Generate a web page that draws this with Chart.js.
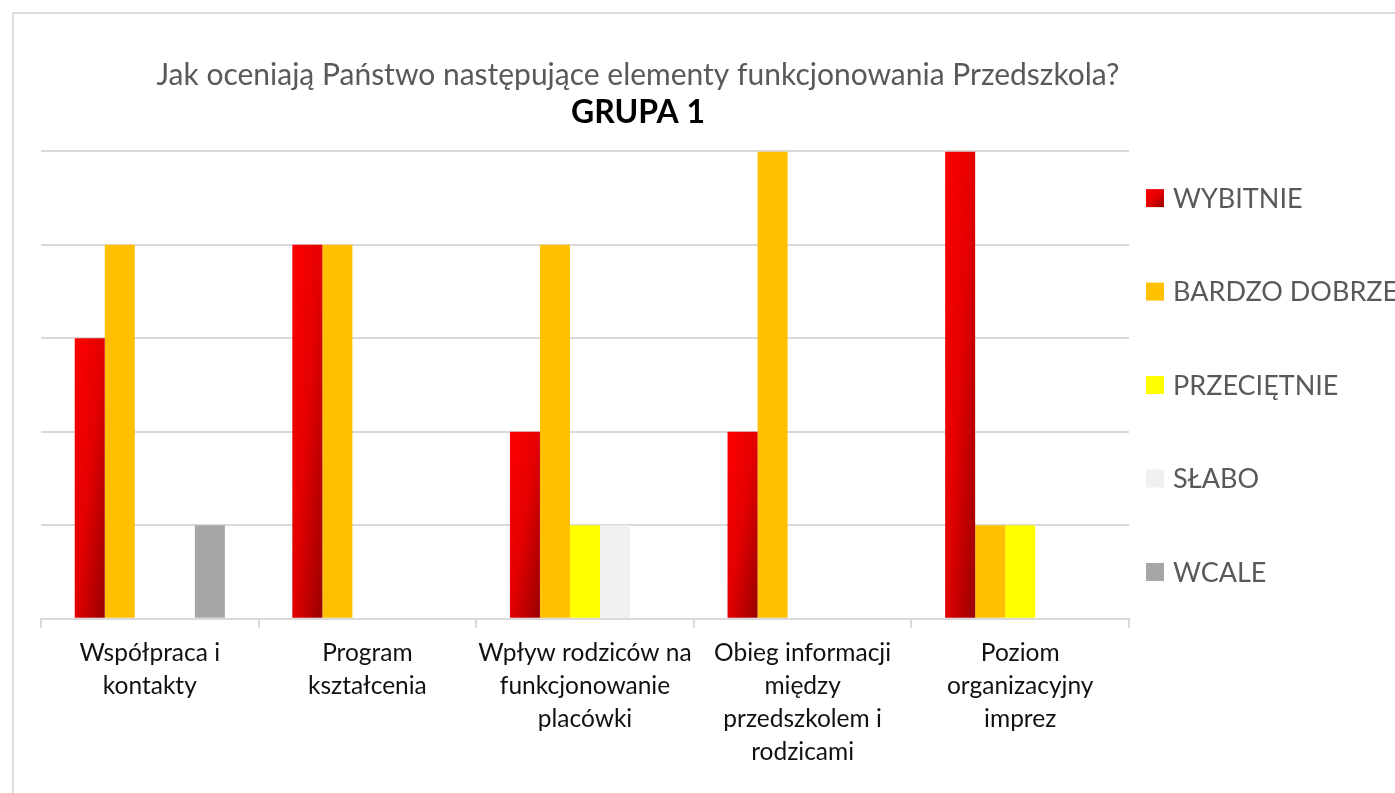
<!DOCTYPE html>
<html>
<head>
<meta charset="utf-8">
<script src="https://cdn.jsdelivr.net/npm/chart.js@4/dist/chart.umd.min.js"></script>
<style>
  html, body { margin: 0; padding: 0; overflow: hidden; background: #fff; }
  #wrap { position: absolute; left: 0; top: 0; width: 1395px; height: 793px; }
  #frame { position: absolute; left: 12px; top: 12px; width: 1500px; height: 900px;
           border: 2px solid #dcdcdc; pointer-events: none; }
</style>
</head>
<body>
<div id="wrap"><canvas id="chart" width="1395" height="793"></canvas></div>
<div id="frame"></div>
<script>
const titleText = 'Jak oceniają Państwo następujące elementy funkcjonowania Przedszkola?';
const subtitleText = 'GRUPA 1';

const categories = [
    ['Współpraca i', 'kontakty'],
    ['Program', 'kształcenia'],
    ['Wpływ rodziców na', 'funkcjonowanie', 'placówki'],
    ['Obieg informacji', 'między', 'przedszkolem i', 'rodzicami'],
    ['Poziom', 'organizacyjny', 'imprez']
];

const seriesNames = ['WYBITNIE', 'BARDZO DOBRZE', 'PRZECIĘTNIE', 'SŁABO', 'WCALE'];
const seriesColors = ['#e60000', '#ffc000', '#ffff00', '#f0f0f0', '#a6a6a6'];

const wybitnie = [3, 4, 2, 2, 5];
const bardzoDobrze = [4, 4, 4, 5, 1];
const przecietnie = [0, 0, 1, 0, 1];
const slabo = [0, 0, 1, 0, 0];
const wcale = [1, 0, 0, 0, 0];

const seriesValues = [wybitnie, bardzoDobrze, przecietnie, slabo, wcale];

const FONT = 'Lato, "Noto Sans", sans-serif';

// red bars get a diagonal gradient, scaled to each bar like in Excel
function redGradient(ctx, left, top, w, h) {
    const k = 2 * w * h / (w * w + h * h);
    const g = ctx.createLinearGradient(left, top, left + h * k, top + w * k);
    g.addColorStop(0, '#ff0000');
    g.addColorStop(0.5, '#e20000');
    g.addColorStop(1, '#980000');
    return g;
}

const gradientBars = {
    id: 'gradientBars',
    beforeDatasetsDraw(chart) {
        const meta = chart.getDatasetMeta(0);
        meta.data.forEach(bar => {
            const p = bar.getProps(['x', 'y', 'base', 'width'], true);
            const top = Math.min(p.y, p.base);
            const h = Math.abs(p.base - p.y);
            if (h <= 0) return;
            bar.options.backgroundColor = redGradient(chart.ctx, p.x - p.width / 2, top, p.width, h);
        });
    }
};

const sideLegend = {
    id: 'sideLegend',
    afterDraw(chart) {
        const ctx = chart.ctx;
        const area = chart.chartArea;
        const step = (area.bottom - area.top) / seriesNames.length;
        const boxX = area.right + 17;
        ctx.save();
        ctx.font = '27px ' + FONT;
        ctx.textBaseline = 'middle';
        seriesNames.forEach((name, i) => {
            const cy = area.top + step * (i + 0.5);
            ctx.fillStyle = i === 0 ? redGradient(ctx, boxX, cy - 9, 18, 18) : seriesColors[i];
            ctx.fillRect(boxX, cy - 9, 18, 18);
            ctx.fillStyle = '#595959';
            ctx.fillText(name, boxX + 27, cy + 1);
        });
        ctx.restore();
    }
};

const datasets = seriesNames.map((name, i) => ({
    label: name,
    data: seriesValues[i],
    backgroundColor: i === 0 ? () => seriesColors[0] : seriesColors[i],
    borderWidth: 0,
    categoryPercentage: 0.69,
    barPercentage: 1
}));

new Chart(document.getElementById('chart').getContext('2d'), {
    type: 'bar',
    data: { labels: categories, datasets: datasets },
    plugins: [gradientBars, sideLegend],
    options: {
        responsive: false,
        animation: false,
        layout: { padding: { left: 0, right: 119, top: 0, bottom: 15 } },
        plugins: {
            legend: { display: false },
            tooltip: { enabled: false },
            title: {
                display: true,
                text: titleText,
                color: '#595959',
                font: { family: FONT, size: 30, weight: 'normal', lineHeight: 1.2 },
                padding: { top: 57, bottom: 0 }
            },
            subtitle: {
                display: true,
                text: subtitleText,
                color: '#000000',
                font: { family: FONT, size: 32, weight: 'bold', lineHeight: 1.2 },
                padding: { top: 0, bottom: 20 }
            }
        },
        scales: {
            x: {
                grid: {
                    display: true,
                    drawOnChartArea: false,
                    drawTicks: true,
                    tickLength: 9,
                    color: '#d9d9d9',
                    lineWidth: 2
                },
                border: { display: true, color: '#d9d9d9', width: 2 },
                ticks: {
                    color: '#111111',
                    font: { family: FONT, size: 24.5, lineHeight: 1.35 },
                    padding: 9,
                    maxRotation: 0,
                    autoSkip: false
                }
            },
            y: {
                min: 0,
                max: 5,
                ticks: { display: false, stepSize: 1 },
                grid: { color: '#d9d9d9', lineWidth: 2, drawTicks: false },
                border: { display: false },
                afterFit(scale) { scale.width = 41; }
            },
            yRight: {
                type: 'linear',
                position: 'right',
                display: true,
                grid: { display: false, drawTicks: false },
                border: { display: false },
                ticks: { display: false },
                afterFit(scale) { scale.width = 147; }
            }
        }
    }
});
</script>
</body>
</html>
